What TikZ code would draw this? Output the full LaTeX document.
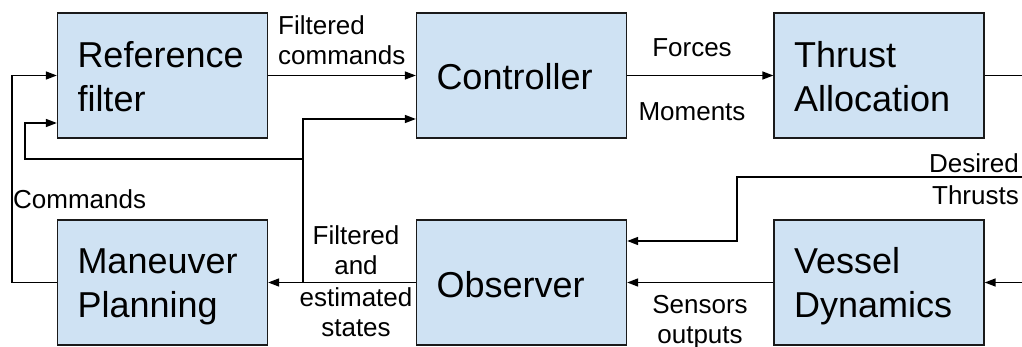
\documentclass[tikz,border=0pt]{standalone}
\usepackage{fontspec}
\setmainfont{Liberation Sans}
\usetikzlibrary{arrows.meta}
\definecolor{boxfill}{HTML}{CFE2F3}
\definecolor{boxline}{HTML}{1A1A1A}
\begin{document}
\begin{tikzpicture}[x=1pt,y=-1pt,
  block/.style={draw=boxline, line width=1.3pt, fill=boxfill,
    minimum height=125pt, text width=170pt, inner xsep=20pt, inner ysep=0pt,
    align=left, font=\fontsize{36}{44}\selectfont,
    execute at begin node=\rule{0pt}{33pt},
    execute at end node=\rule[-4pt]{0pt}{4pt}},
  lbl/.style={inner sep=0pt, font=\fontsize{26}{30}\selectfont},
  wire/.style={line width=1.4pt},
  arr/.style={wire, -{Triangle[length=11pt,width=8pt]}}]

\useasboundingbox (0,0) rectangle (1022,347);

% processing blocks
\node[block] (rf)   at (162.5,75.5)  {Reference\\filter};
\node[block] (ctrl) at (521.5,75.5)  {Controller};
\node[block] (ta)   at (879,75.5)    {Thrust\\Allocation};
\node[block] (mp)   at (162.5,282.5) {Maneuver\\Planning};
\node[block] (obs)  at (521.5,282.5) {Observer};
\node[block] (vd)   at (879,282.5)   {Vessel\\Dynamics};

% helper points for the routed wires
\coordinate (edge)  at (1022,0);
\coordinate (tbend) at (737,177);
\coordinate (split) at (303,282.5);
\coordinate (fb)    at (303,159);
\coordinate (fbl)   at (25,159);
\coordinate (cmdl)  at (12,282.5);

% forward path
\draw[arr]  (rf.east) -- (ctrl.west);
\draw[arr]  (ctrl.east) -- (ta.west);
\draw[wire] (ta.east) -- (ta.east -| edge);
\draw[arr]  (edge |- tbend) -- (tbend) |- ([yshift=41.5pt]obs.east);
\draw[arr]  (vd.east -| edge) -- (vd.east);
\draw[arr]  (vd.west) -- (obs.east);
\draw[arr]  (obs.west) -- (mp.east);

% state feedback
\draw[arr]  (split) |- ([yshift=-43.5pt]ctrl.west);
\draw[arr]  (fb) -- (fbl) |- ([yshift=-47.5pt]rf.west);

% commands from the planner
\draw[arr]  (mp.west) -- (cmdl) |- (rf.west);

% signal labels
\node[lbl, anchor=north west, align=left] (lfc) at (278,15) {Filtered\\commands};
\node[lbl, anchor=north] (lf) at (692,38) {Forces};
\node[lbl, anchor=north] (lm) at (692,102) {Moments};
\node[lbl, anchor=north east, align=right] (ldt) at (1019,153) {Desired\\[2pt]Thrusts};
\node[lbl, anchor=north, align=center] (lso) at (700,295) {Sensors\\outputs};
\node[lbl, anchor=north, align=center] (lfe) at (356,225) {Filtered\\and\\[2pt]estimated\\states};
\node[lbl, anchor=base west] (lc) at (13,209) {Commands};
\end{tikzpicture}
\end{document}
